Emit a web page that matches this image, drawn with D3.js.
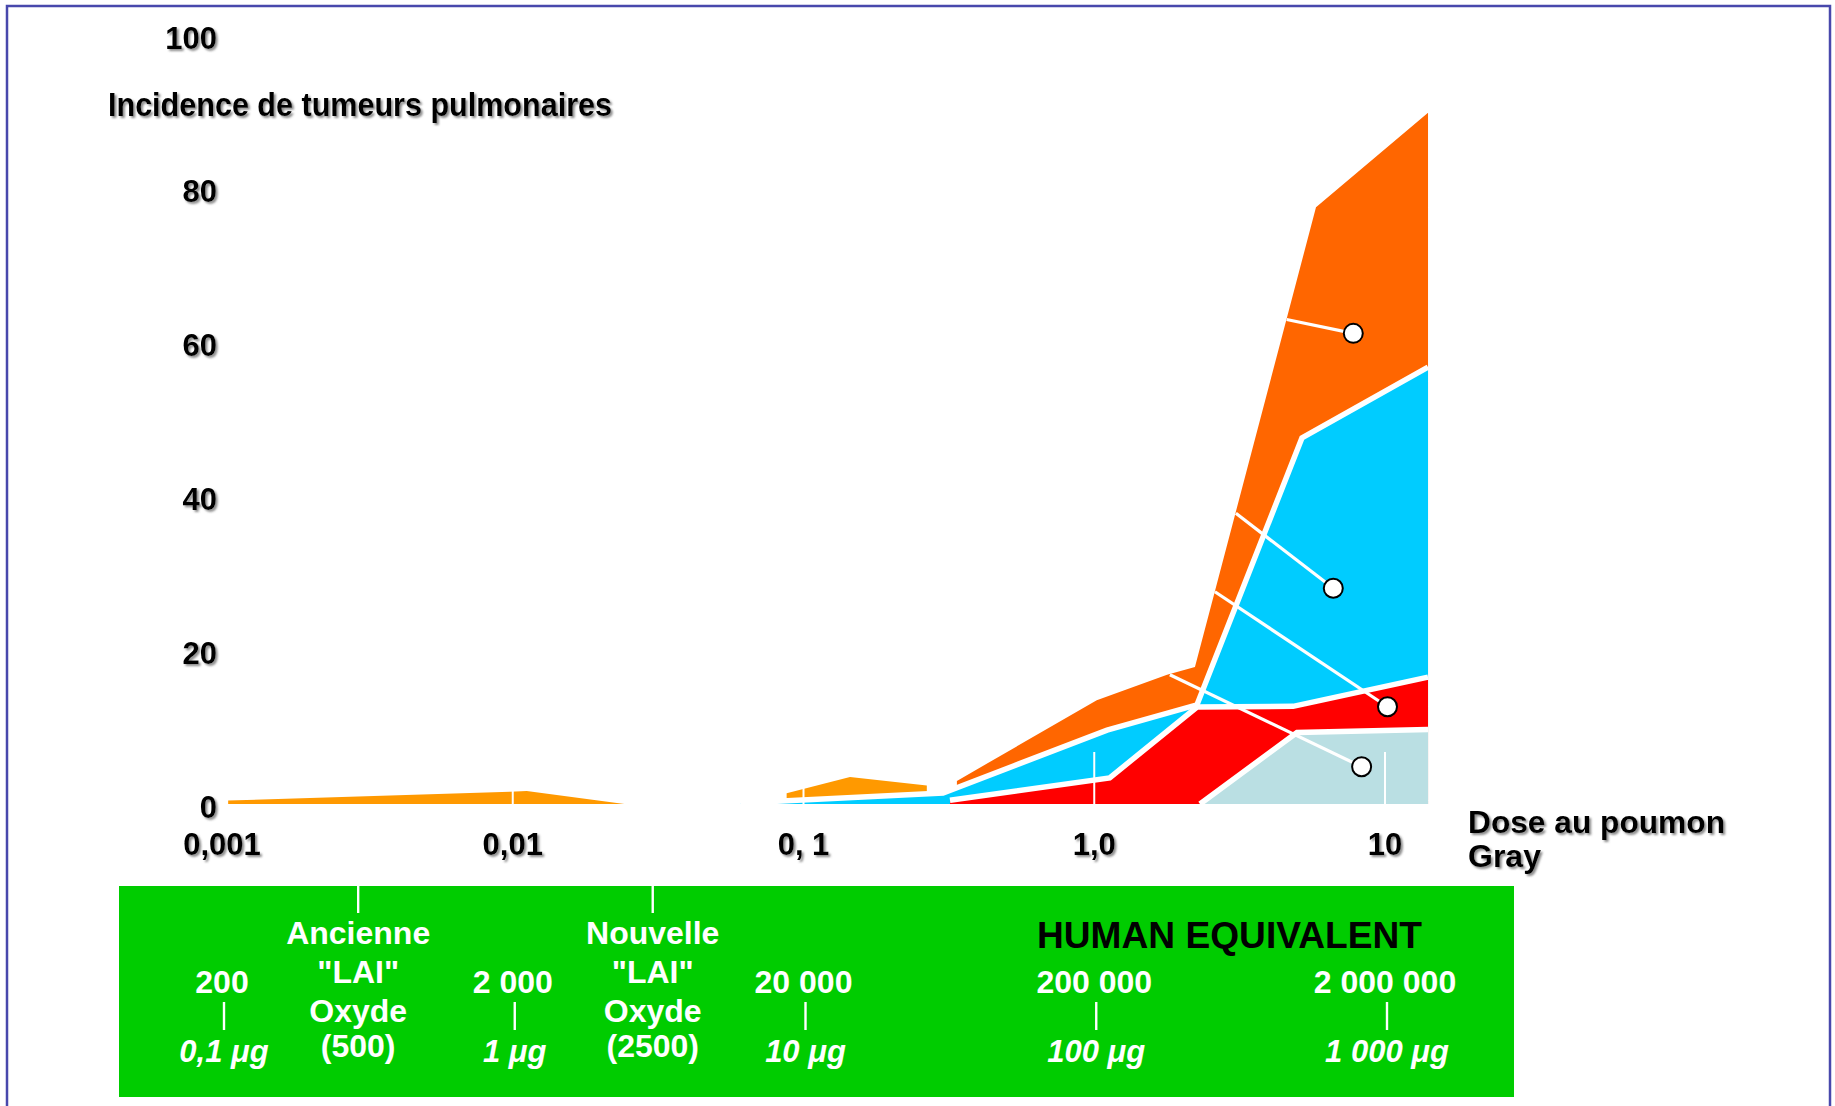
<!DOCTYPE html>
<html>
<head>
<meta charset="utf-8">
<script src="https://cdn.jsdelivr.net/npm/d3@7"></script>
<style>
  html, body { margin: 0; padding: 0; background: #fff; }
  svg { display: block; }
  text { font-family: "Liberation Sans", Arial, sans-serif; }
</style>
</head>
<body>
<script>
// ---------- data ----------
const xTickValues = [0.001, 0.01, 0.1, 1, 10];
const xTickLabels = ["0,001", "0,01", "0, 1", "1,0", "10"];
const yTickValues = [0, 20, 40, 60, 80, 100];

// main orange band (outer envelope)
const orangeDose = [0.337, 1.02, 1.78, 2.22, 5.79, 14.06];
const orangeInc  = [3.0, 13.5, 16.8, 17.8, 77.6, 89.9];
// cyan band
const cyanDose = [0.0605, 0.302, 1.107, 2.256, 5.18, 14.06];
const cyanInc  = [0.13, 1.43, 9.6, 12.9, 47.6, 56.8];
// red band
const redDose = [0.319, 1.13, 2.256, 4.83, 14.06];
const redInc  = [0.5, 3.4, 12.6, 12.7, 16.5];
// light grey band
const greyDose = [2.31, 4.98, 14.06];
const greyInc  = [0, 9.3, 9.7];
// small light-orange bumps
const lowADose = [0.00105, 0.00978, 0.01117, 0.0242];
const lowAInc  = [0.45, 1.6, 1.7, 0];
const lowBDose = [0.0875, 0.1445, 0.2655];
const lowBInc  = [1.4, 3.5, 2.4];

// leader lines to the round markers
const leaderFromDose = [4.59, 3.07, 2.60, 1.82];
const leaderFromInc  = [63.0, 37.8, 27.6, 16.8];
const markerDose = [7.78, 6.64, 10.2, 8.31];
const markerInc  = [61.2, 28.05, 12.65, 4.85];

// human equivalent band
const humanDose  = [0.001, 0.01, 0.1, 1, 10];
const humanCount = ["200", "2 000", "20 000", "200 000", "2 000 000"];
const humanMass  = ["0,1 \u03bcg", "1 \u03bcg", "10 \u03bcg", "100 \u03bcg", "1 000 \u03bcg"];
const laiDose   = [0.00294, 0.0303];
const laiLabels = [["Ancienne", "\"LAI\"", "Oxyde", "(500)"],
                   ["Nouvelle", "\"LAI\"", "Oxyde", "(2500)"]];

const yTitle = "Incidence de tumeurs pulmonaires";
const xTitle = ["Dose au poumon", "Gray"];
const bandTitle = "HUMAN EQUIVALENT";

// ---------- drawing ----------
const W = 1835, H = 1106;
const svg = d3.select("body").append("svg").attr("width", W).attr("height", H);

const defs = svg.append("defs");
const f = defs.append("filter").attr("id", "shadow")
  .attr("x", "-10%").attr("y", "-20%").attr("width", "130%").attr("height", "160%");
f.append("feDropShadow").attr("dx", 2).attr("dy", 2).attr("stdDeviation", 0.8)
  .attr("flood-color", "#666").attr("flood-opacity", 0.75);

// frame
svg.append("rect").attr("x", 7).attr("y", 6).attr("width", 1823).attr("height", 1120)
  .attr("fill", "none").attr("stroke", "#4848ac").attr("stroke-width", 2.5);

const x = d3.scaleLog().domain([0.001, 10]).range([222, 1385]);
const y = d3.scaleLinear().domain([0, 100]).range([804, 35]);

const zip = (ds, vs) => ds.map((d, i) => ({ d, v: vs[i] }));
const area = d3.area().x(p => x(p.d)).y0(y(0)).y1(p => y(p.v));
const line = d3.line().x(p => x(p.d)).y(p => y(p.v));

const plot = svg.append("g");

// outer orange
plot.append("path").datum(zip(orangeDose, orangeInc)).attr("d", area).attr("fill", "#ff6600");
// small light orange bumps
plot.append("path").datum(zip(lowADose, lowAInc)).attr("d", area).attr("fill", "#ff9900");
plot.append("path").datum(zip(lowBDose, lowBInc)).attr("d", area).attr("fill", "#ff9900");

const bands = [
  { ds: cyanDose, vs: cyanInc, c: "#00ccff" },
  { ds: redDose, vs: redInc, c: "#ff0000" },
  { ds: greyDose, vs: greyInc, c: "#badfe3" }
];
bands.forEach(b => {
  const pts = zip(b.ds, b.vs);
  plot.append("path").datum(pts).attr("d", area).attr("fill", b.c);
  plot.append("path").datum(pts).attr("d", line).attr("fill", "none")
    .attr("stroke", "#fff").attr("stroke-width", 5.5).attr("stroke-linejoin", "miter");
});

// white decade ticks on the fills
plot.selectAll(".dtick").data(xTickValues).enter().append("line")
  .attr("x1", d => x(d)).attr("x2", d => x(d))
  .attr("y1", y(0)).attr("y2", y(0) - 52)
  .attr("stroke", "#fff").attr("stroke-width", 2);

// leader lines and markers
const leaders = leaderFromDose.map((d, i) => ({
  x1: x(d), y1: y(leaderFromInc[i]), x2: x(markerDose[i]), y2: y(markerInc[i])
}));
plot.selectAll(".lead").data(leaders).enter().append("line")
  .attr("x1", d => d.x1).attr("y1", d => d.y1).attr("x2", d => d.x2).attr("y2", d => d.y2)
  .attr("stroke", "#fff").attr("stroke-width", 3.2);
plot.selectAll(".mark").data(leaders).enter().append("circle")
  .attr("cx", d => d.x2).attr("cy", d => d.y2).attr("r", 9.5)
  .attr("fill", "#fff").attr("stroke", "#000").attr("stroke-width", 2);

// axes labels
const txt = svg.append("g").attr("filter", "url(#shadow)");
txt.selectAll(".yl").data(yTickValues).enter().append("text")
  .attr("x", 217).attr("y", d => y(d) + 13.5)
  .attr("text-anchor", "end").attr("font-size", 31).attr("font-weight", "bold")
  .attr("fill", "#000").text(d => d);

txt.selectAll(".xl").data(xTickValues).enter().append("text")
  .attr("x", d => x(d)).attr("y", 855)
  .attr("text-anchor", "middle").attr("font-size", 31).attr("font-weight", "bold")
  .attr("fill", "#000").text((d, i) => xTickLabels[i]);

txt.append("text").attr("x", 108).attr("y", 116)
  .attr("font-size", 34).attr("font-weight", "bold").attr("fill", "#000")
  .style("font-family", "'Liberation Sans Narrow', 'Arial Narrow', 'Liberation Sans', sans-serif")
  .attr("textLength", 504).attr("lengthAdjust", "spacingAndGlyphs")
  .text(yTitle);

txt.append("text").attr("x", 1468).attr("y", 833)
  .attr("font-size", 32).attr("font-weight", "bold").attr("fill", "#000")
  .attr("textLength", 257).attr("lengthAdjust", "spacingAndGlyphs")
  .text(xTitle[0]);
txt.append("text").attr("x", 1468).attr("y", 867)
  .attr("font-size", 32).attr("font-weight", "bold").attr("fill", "#000")
  .text(xTitle[1]);

// human equivalent band
const band = svg.append("g");
band.append("rect").attr("x", 119).attr("y", 886).attr("width", 1395).attr("height", 211)
  .attr("fill", "#00cc00");

band.append("text").attr("x", 1037).attr("y", 948)
  .attr("font-size", 37).attr("font-weight", "bold").attr("fill", "#000")
  .attr("textLength", 385).attr("lengthAdjust", "spacingAndGlyphs")
  .text(bandTitle);

band.selectAll(".hc").data(humanDose).enter().append("text")
  .attr("x", d => x(d)).attr("y", 993)
  .attr("text-anchor", "middle").attr("font-size", 32).attr("font-weight", "bold")
  .attr("fill", "#fff").text((d, i) => humanCount[i]);
band.selectAll(".hbar").data(humanDose).enter().append("line")
  .attr("x1", d => x(d) + 2).attr("x2", d => x(d) + 2)
  .attr("y1", 1002).attr("y2", 1030)
  .attr("stroke", "#fff").attr("stroke-width", 2.4);
band.selectAll(".hm").data(humanDose).enter().append("text")
  .attr("x", d => x(d) + 2).attr("y", 1062)
  .attr("text-anchor", "middle").attr("font-size", 31).attr("font-style", "italic")
  .attr("font-weight", "bold")
  .attr("fill", "#fff").text((d, i) => humanMass[i]);

laiDose.forEach((d, i) => {
  band.append("line").attr("x1", x(d)).attr("x2", x(d)).attr("y1", 886).attr("y2", 913)
    .attr("stroke", "#fff").attr("stroke-width", 2.4);
  const t = band.append("text").attr("text-anchor", "middle")
    .attr("font-size", 32).attr("font-weight", "bold").attr("fill", "#fff");
  const ys = [944, 983, 1021.5, 1057];
  laiLabels[i].forEach((s, j) => {
    t.append("tspan").attr("x", x(d)).attr("y", ys[j]).text(s);
  });
});
</script>
</body>
</html>
